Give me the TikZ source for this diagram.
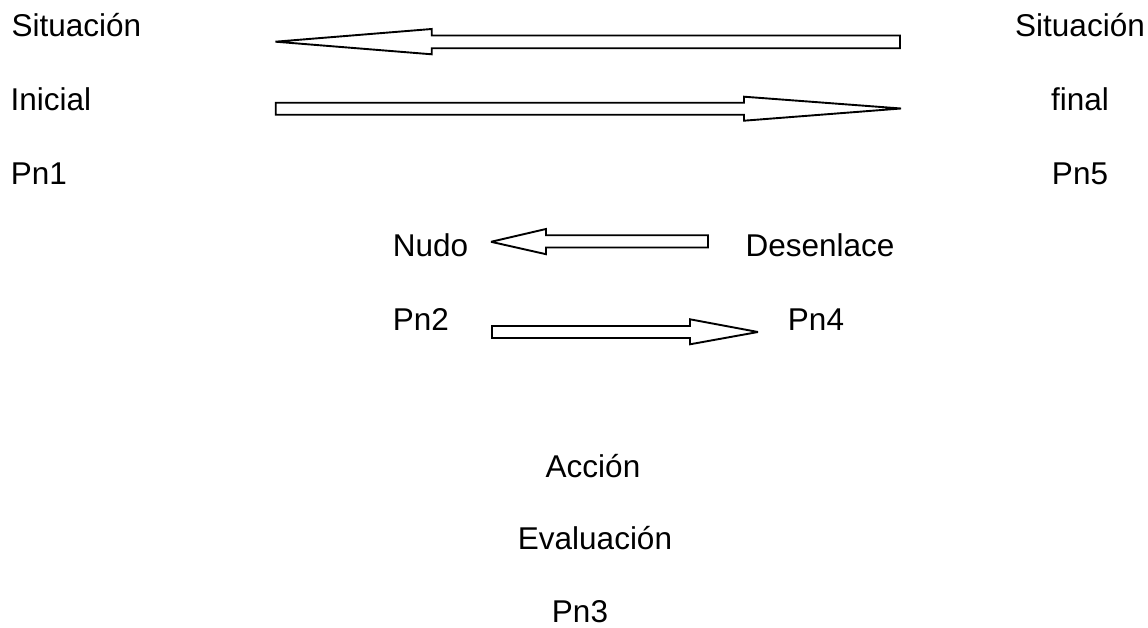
\documentclass[tikz,border=0pt]{standalone}
\usepackage{fontspec}
\setmainfont{Liberation Sans}
\begin{document}
\begin{tikzpicture}[x=1pt,y=-1pt,
  lbl/.style={inner sep=0pt, font=\fontsize{31.5}{38}\selectfont},
  lw/.style={lbl, anchor=base west},
  lc/.style={lbl, anchor=base},
  blockarrow/.style={draw=black, fill=white, line width=1.9pt, line join=miter, miter limit=3}]
\useasboundingbox[fill=white] (0,0) rectangle (1148,628);
% left column
\node[lw] (si) at (11.5,37) {Situación};
\node[lw] (ini) at (10.5,111) {Inicial};
\node[lw] (pn1) at (10.6,185) {Pn1};
% right column
\node[lc] (sf) at (1080,37) {Situación};
\node[lc] (fin) at (1080,111) {final};
\node[lc] (pn5) at (1080,185) {Pn5};
% middle
\node[lw] (nudo) at (392.6,257) {Nudo};
\node[lw] (pn2) at (392.6,330.5) {Pn2};
\node[lc] (des) at (820,257) {Desenlace};
\node[lc] (pn4) at (816,330.5) {Pn4};
% bottom
\node[lc] (acc) at (593,477) {Acción};
\node[lc] (eva) at (595,549) {Evaluación};
\node[lc] (pn3) at (580,622) {Pn3};
% big arrows
\draw[blockarrow] (275.5,41.7) -- (431.7,29) -- (431.7,35.5) -- (900,35.5) -- (900,48.3) -- (431.7,48.3) -- (431.7,54.3) -- cycle;
\draw[blockarrow] (275.7,102.8) -- (744,102.8) -- (744,96.7) -- (901,108.5) -- (744,120.7) -- (744,114.8) -- (275.7,114.8) -- cycle;
% small arrows
\draw[blockarrow] (491,241.8) -- (546,229) -- (546,235.3) -- (708,235.3) -- (708,247.5) -- (546,247.5) -- (546,254.2) -- cycle;
\draw[blockarrow] (492,326) -- (690,326) -- (690,319.3) -- (758,332) -- (690,344.3) -- (690,338) -- (492,338) -- cycle;
\end{tikzpicture}
\end{document}
